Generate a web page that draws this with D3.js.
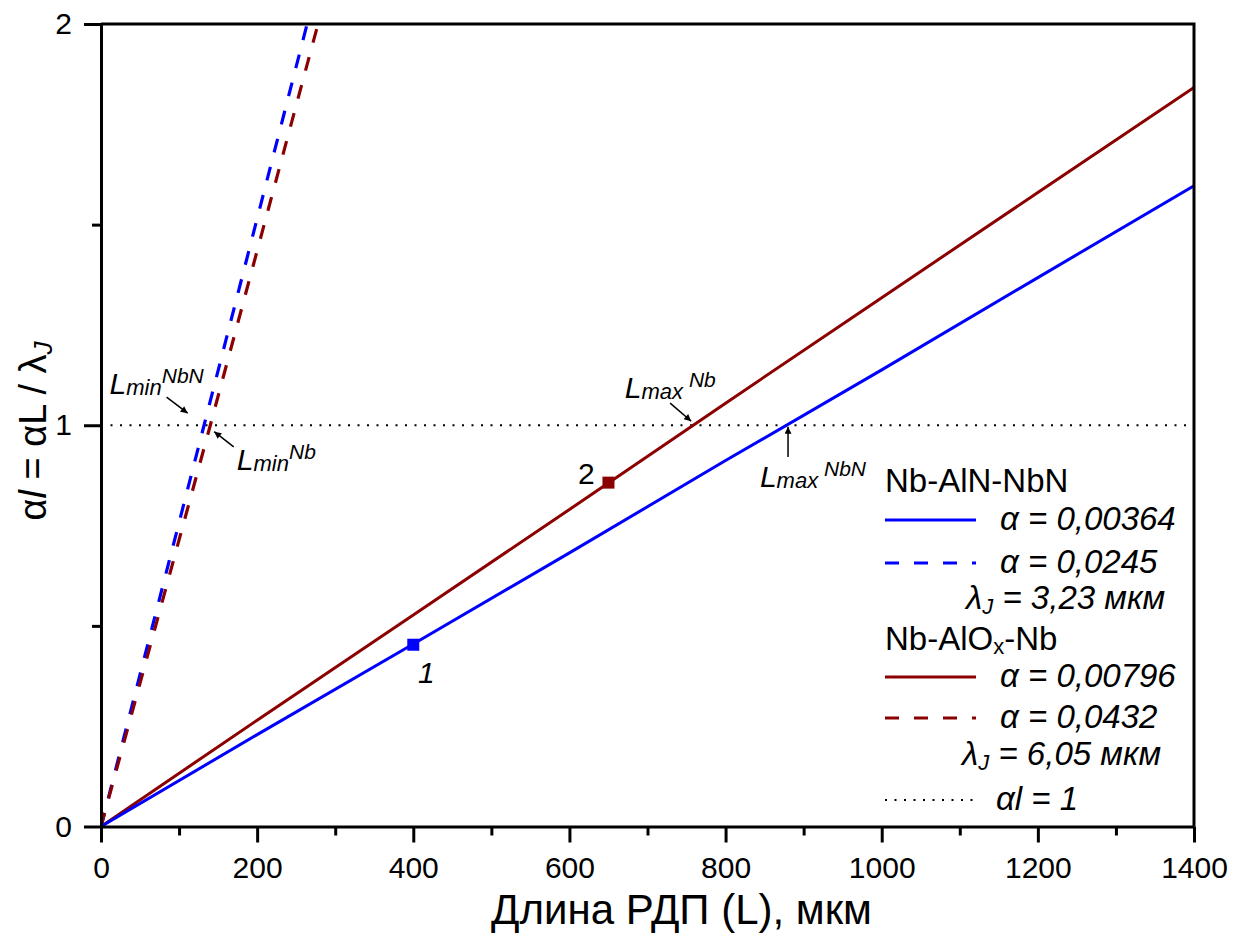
<!DOCTYPE html>
<html>
<head>
<meta charset="utf-8">
<script src="https://cdn.jsdelivr.net/npm/d3@7"></script>
<style>
  body { margin: 0; background: #fff; }
  svg { font-family: "Liberation Sans", Arial, sans-serif; }
  .axis path, .axis line { stroke: #000; stroke-width: 3px; }
  .axis text { font-size: 30px; fill: #000; font-family: "Liberation Sans", Arial, sans-serif; }
</style>
</head>
<body>
<svg width="1244" height="934"></svg>
<script>
// lengths of the junction, мкм
var lengths = [0, 200, 400, 600, 800, 1000, 1200, 1400];
// al values
var nbnSolid = [0, 0.229, 0.455, 0.682, 0.912, 1.138, 1.368, 1.597];
var nbSolid  = [0, 0.265, 0.527, 0.790, 1.055, 1.318, 1.580, 1.842];
var nbnDashL = [0, 66, 132, 198, 264];
var nbnDashV = [0, 0.5, 1.0, 1.5, 2.0];
var nbDashL  = [0, 70, 140, 209, 278];
var nbDashV  = [0, 0.5, 1.0, 1.5, 2.0];
// marked points 1 and 2
var markL = [400, 650];
var markV = [0.453, 0.857];
var xTicks = [0, 200, 400, 600, 800, 1000, 1200, 1400];
var yTicks = [0, 1, 2];

var blue = "#0000ff", red = "#8b0000";

var svg = d3.select("svg");
var x = d3.scaleLinear().domain([0, 1400]).range([101, 1194]);
var y = d3.scaleLinear().domain([0, 2]).range([826.5, 24]);

svg.append("defs").append("clipPath").attr("id", "plot")
    .append("rect").attr("x", x(0)).attr("y", y(2))
    .attr("width", x(1400) - x(0)).attr("height", y(0) - y(2));

svg.append("defs").append("marker")
    .attr("id", "arr").attr("viewBox", "0 0 10 10")
    .attr("refX", 10).attr("refY", 5)
    .attr("markerWidth", 10).attr("markerHeight", 7)
    .attr("markerUnits", "userSpaceOnUse")
    .attr("orient", "auto")
    .append("path").attr("d", "M0,0L10,5L0,10z").attr("fill", "#000");

var line = d3.line().x(function(d) { return x(d[0]); }).y(function(d) { return y(d[1]); });
function pairs(a, b) { return a.map(function(v, i) { return [v, b[i]]; }); }

var g = svg.append("g").attr("clip-path", "url(#plot)");

// al = 1
g.append("path").attr("d", line([[0, 1], [1400, 1]]))
    .attr("fill", "none").attr("stroke", "#000").attr("stroke-width", 2)
    .attr("stroke-dasharray", "2,7.5");

g.append("path").attr("d", line(pairs(nbnDashL, nbnDashV)))
    .attr("fill", "none").attr("stroke", blue).attr("stroke-width", 3.2)
    .attr("stroke-dasharray", "14,15");
g.append("path").attr("d", line(pairs(nbDashL, nbDashV)))
    .attr("fill", "none").attr("stroke", red).attr("stroke-width", 3.2)
    .attr("stroke-dasharray", "14,15");
g.append("path").attr("d", line(pairs(lengths, nbSolid)))
    .attr("fill", "none").attr("stroke", red).attr("stroke-width", 3);
g.append("path").attr("d", line(pairs(lengths, nbnSolid)))
    .attr("fill", "none").attr("stroke", blue).attr("stroke-width", 3);

svg.selectAll(".mark")
    .data(pairs(markL, markV))
    .enter().append("rect")
    .attr("class", "mark")
    .attr("x", function(d) { return x(d[0]) - 6; })
    .attr("y", function(d) { return y(d[1]) - 6; })
    .attr("width", 12).attr("height", 12)
    .attr("fill", function(d, i) { return i == 0 ? blue : red; });

// frame
svg.append("path")
    .attr("d", "M" + x(0) + "," + y(2) + "H" + x(1400) + "V" + y(0))
    .attr("fill", "none").attr("stroke", "#000").attr("stroke-width", 3);

// axes
function clean(sel) { sel.attr("font-size", null).attr("font-family", null); }
svg.append("g").attr("class", "axis")
    .attr("transform", "translate(0," + y(0) + ")")
    .call(d3.axisBottom(x).tickValues(d3.range(100, 1400, 200)).tickSize(9).tickFormat(""))
    .select(".domain").remove();
svg.append("g").attr("class", "axis")
    .attr("transform", "translate(0," + y(0) + ")")
    .call(d3.axisBottom(x).tickValues(xTicks).tickSize(16).tickPadding(14).tickSizeOuter(0).tickFormat(d3.format("d")))
    .call(clean);
svg.append("g").attr("class", "axis")
    .attr("transform", "translate(" + x(0) + ",0)")
    .call(d3.axisLeft(y).tickValues([0.5, 1.5]).tickSize(9).tickFormat(""))
    .select(".domain").remove();
svg.append("g").attr("class", "axis")
    .attr("transform", "translate(" + x(0) + ",0)")
    .call(d3.axisLeft(y).tickValues(yTicks).tickSize(17).tickPadding(12).tickSizeOuter(0).tickFormat(d3.format("d")))
    .call(clean);

// axis titles
svg.append("text")
    .attr("x", 872).attr("y", 924)
    .attr("text-anchor", "end")
    .attr("font-size", 42)
    .text("Длина РДП (L), мкм");

var yt = svg.append("text")
    .attr("transform", "translate(46,431) rotate(-90)")
    .attr("text-anchor", "middle")
    .attr("font-size", 38);
yt.append("tspan").text("α");
yt.append("tspan").attr("font-style", "italic").text("l");
yt.append("tspan").text(" = αL / λ");
yt.append("tspan").attr("font-style", "italic").attr("font-size", 26).attr("dy", 6).text("J");

// annotations, placed in data units
var notes = [
    { L: 11, v: 1.077, sub: "min", sup: "NbN", from: [84, 1.07], to: [111, 1.03] },
    { L: 174, v: 0.888, sub: "min", sup: "Nb", from: [170, 0.946], to: [145, 0.984] },
    { L: 671, v: 1.068, sub: "max", sup: " Nb", from: [729, 1.055], to: [756, 1.01] },
    { L: 844, v: 0.846, sub: "max", sup: " NbN", from: [880, 0.921], to: [880, 0.996] }
];
notes.forEach(function(n) {
    var t = svg.append("text").attr("x", x(n.L)).attr("y", y(n.v)).attr("font-size", 30);
    t.append("tspan").attr("font-style", "italic").text("L");
    t.append("tspan").attr("font-style", "italic").attr("font-size", 22).attr("dy", 1).text(n.sub);
    t.append("tspan").attr("font-style", "italic").attr("font-size", 21).attr("dy", -12).text(n.sup);
    svg.append("line")
        .attr("x1", x(n.from[0])).attr("y1", y(n.from[1]))
        .attr("x2", x(n.to[0])).attr("y2", y(n.to[1]))
        .attr("stroke", "#000").attr("stroke-width", 1.5)
        .attr("marker-end", "url(#arr)");
});

svg.append("text").attr("x", x(406)).attr("y", y(0.357))
    .attr("font-size", 30).attr("font-style", "italic").text("1");
svg.append("text").attr("x", x(611)).attr("y", y(0.853))
    .attr("font-size", 30).text("2");

// legend
var leg = svg.append("g").attr("font-size", 33);
leg.append("text").attr("x", 885).attr("y", 492).text("Nb-AlN-NbN");
var t2 = leg.append("text").attr("x", 885).attr("y", 650).text("Nb-AlO");
t2.append("tspan").attr("font-size", 22).attr("dy", 4).text("x");
t2.append("tspan").attr("dy", -4).text("-Nb");

var legRows = [
    { y: 520, color: blue, dash: null, label: "α = 0,00364" },
    { y: 563, color: blue, dash: "14,15", label: "α = 0,0245" },
    { y: 677, color: red, dash: null, label: "α = 0,00796" },
    { y: 718, color: red, dash: "14,15", label: "α = 0,0432" },
    { y: 800, color: "#000", dash: "2,7.5", label: "αl = 1" }
];
legRows.forEach(function(r, i) {
    leg.append("line").attr("x1", 885).attr("x2", 976).attr("y1", r.y).attr("y2", r.y)
        .attr("stroke", r.color).attr("stroke-width", i == 4 ? 2 : 3)
        .attr("stroke-dasharray", r.dash);
    leg.append("text").attr("x", i == 4 ? 996 : 1000).attr("y", r.y + 10)
        .attr("font-style", "italic").text(r.label);
});
[{ x: 966, y: 609, v: " = 3,23 мкм" }, { x: 962, y: 765, v: " = 6,05 мкм" }].forEach(function(r) {
    var t = leg.append("text").attr("x", r.x).attr("y", r.y).attr("font-style", "italic");
    t.append("tspan").text("λ");
    t.append("tspan").attr("font-size", 22).attr("dy", 5).text("J");
    t.append("tspan").attr("dy", -5).text(r.v);
});
</script>
</body>
</html>
